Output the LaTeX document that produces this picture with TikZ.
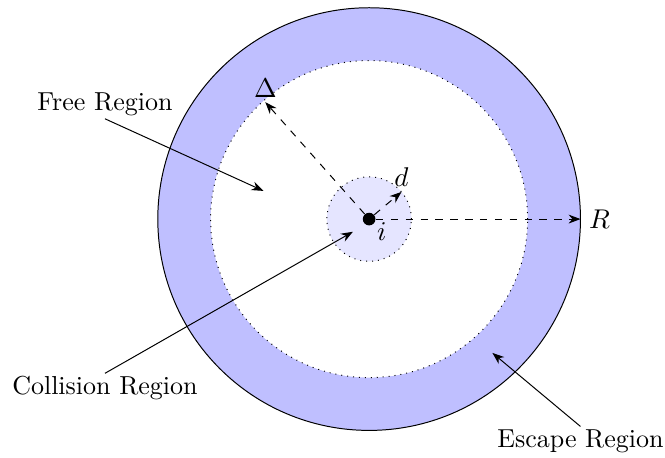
\documentclass[tikz,border=0pt]{standalone}
\usepackage{amsmath,amssymb}
\usepackage{fontspec}
\usetikzlibrary{arrows.meta}

\begin{document}
\begin{tikzpicture}[>=Stealth, line join=round,
    font=\fontsize{10.5}{12.6}\selectfont,
    regionlbl/.style={inner sep=1pt},
    radline/.style={dashed, ->}]
    \useasboundingbox (-5.24,-3.39) rectangle (4.20,3.11);

    % Escape region (outer ring)
    \fill[blue!25] (0,0) circle (3);
    \draw (0,0) circle (3);
    % Free region
    \draw[dotted, fill=white] (0,0) circle (2.25);
    % Collision region
    \draw[dotted, fill=blue!10] (0,0) circle (0.6);

    % Particle i
    \node[circle, fill=black, inner sep=0, minimum size=0.18cm] (ctr) at (0,0) {};
    \node (lbli) at (0.18,-0.18) {$i$};

    % Radii
    \coordinate (tipR) at (3,0);
    \coordinate (tipd) at (40:0.6);
    \coordinate (tipDelta) at (131.6:2.22);
    \node[right] (lblR) at (tipR) {$R$};
    \node[above, inner sep=2pt] (lbld) at (tipd) {$d$};
    \node[above, inner sep=1.5pt] (lblDelta) at (tipDelta) {$\Delta$};
    \draw[radline] (ctr) -- (tipR);
    \draw[radline] (ctr) -- (tipd);
    \draw[radline] (ctr) -- (tipDelta);

    % Region labels
    \node[regionlbl] (free) at (-3.75,1.63) {Free Region};
    \node[regionlbl] (coll) at (-3.75,-2.40) {Collision Region};
    \node[regionlbl] (esc) at (3.0,-3.15) {Escape Region};
    \coordinate (freetip) at (-1.50,0.40);
    \coordinate (colltip) at (-0.23,-0.18);
    \coordinate (esctip) at (1.75,-1.90);
    \draw[->] (free.south) -- (freetip);
    \draw[->] (coll.north) -- (colltip);
    \draw[->] (esc.north) -- (esctip);
\end{tikzpicture}
\end{document}
